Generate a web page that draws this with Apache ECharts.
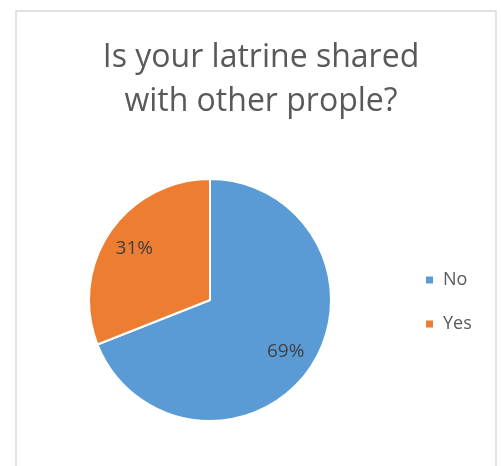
<!DOCTYPE html>
<html>
<head>
<meta charset="utf-8">
<script src="https://cdn.jsdelivr.net/npm/echarts@6/dist/echarts.min.js"></script>
<style>
  html, body { margin: 0; padding: 0; background: #fff; }
  #chart { width: 501px; height: 466px; }
</style>
</head>
<body>
<div id="chart"></div>
<script>
// Survey answers: share of households with a shared latrine
const categories = ['No', 'Yes'];
const values = [69, 31];
const colors = ['#5B9BD5', '#ED7D31'];
const titleText = 'Is your latrine shared\nwith other prople?';

const chart = echarts.init(document.getElementById('chart'), null, { renderer: 'canvas' });
const pieData = categories.map((name, i) => ({ name, value: values[i], itemStyle: { color: colors[i] } }));

chart.setOption({
  animation: false,
  title: {
    text: titleText,
    left: 256,
    textAlign: 'center',
    top: 31,
    textStyle: {
      fontFamily: 'Open Sans',
      fontWeight: 'normal',
      fontSize: 32,
      lineHeight: 44,
      color: '#595959'
    }
  },
  legend: {
    orient: 'vertical',
    left: 419,
    top: 266,
    itemWidth: 9,
    itemHeight: 9,
    itemGap: 26,
    icon: 'rect',
    data: categories,
    textStyle: { fontFamily: 'Open Sans', fontSize: 18, color: '#595959', padding: [0, 0, 0, 4] }
  },
  graphic: [{
    type: 'rect',
    shape: { x: 16, y: 11, width: 480, height: 470 },
    style: { fill: 'none', stroke: '#d9d9d9', lineWidth: 1.5 },
    silent: true,
    z: -1
  }],
  series: [
    {
      type: 'pie',
      center: [210, 300],
      radius: [0, 121],
      startAngle: 90,
      clockwise: true,
      label: { show: false },
      labelLine: { show: false },
      itemStyle: { borderColor: '#fff', borderWidth: 2 },
      emphasis: { disabled: true },
      data: pieData
    },
    {
      // transparent ring used only to place the percentage labels
      type: 'pie',
      center: [210, 300],
      radius: [56, 121],
      startAngle: 90,
      clockwise: true,
      silent: true,
      legendHoverLink: false,
      itemStyle: { color: 'rgba(0,0,0,0)' },
      label: {
        show: true,
        position: 'inside',
        formatter: '{d}%',
        fontFamily: 'Open Sans',
        fontSize: 19,
        color: '#404040'
      },
      labelLine: { show: false },
      emphasis: { disabled: true },
      data: categories.map((name, i) => ({ name: name + ' ', value: values[i] }))
    }
  ]
});
</script>
</body>
</html>
